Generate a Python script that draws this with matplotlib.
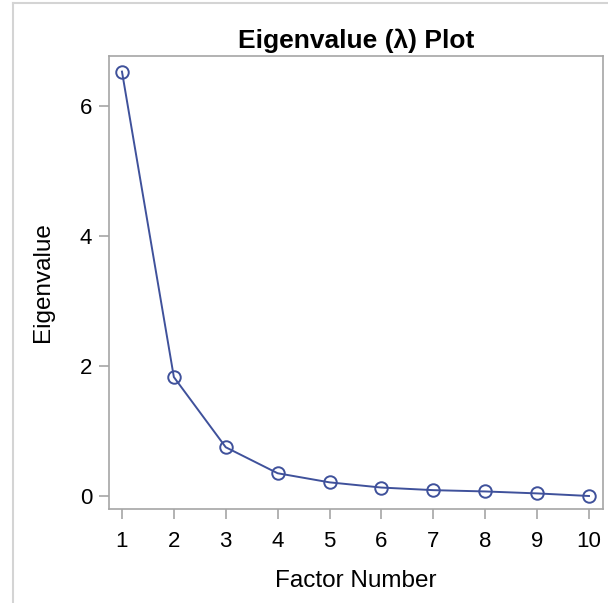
import matplotlib
matplotlib.use("Agg")
import matplotlib.pyplot as plt
from matplotlib.lines import Line2D

factor_number = [1, 2, 3, 4, 5, 6, 7, 8, 9, 10]
eigenvalues = [6.53, 1.83, 0.75, 0.35, 0.21, 0.13, 0.09, 0.07, 0.04, 0.00]
x_ticks = [1, 2, 3, 4, 5, 6, 7, 8, 9, 10]
y_ticks = [0, 2, 4, 6]

plt.rcParams['font.family'] = ['Liberation Sans', 'DejaVu Sans']

line_color = '#3f519b'
frame_color = '#a6a6a6'

fig = plt.figure(figsize=(6.08, 6.03), dpi=100)
ax = fig.add_axes([109 / 608, 1 - 509 / 603, (603 - 109) / 608, (509 - 56) / 603])

ax.plot(factor_number, eigenvalues, color=line_color, lw=1.4,
        marker='o', markersize=9, markerfacecolor='none',
        markeredgecolor=line_color, markeredgewidth=1.4)

ax.set_xlim(0.75, 10.27)
ax.set_ylim(-0.2, 6.77)
ax.set_xticks(x_ticks)
ax.set_yticks(y_ticks)

for sp in ax.spines.values():
    sp.set_color(frame_color)
    sp.set_linewidth(1.2)
ax.tick_params(axis='both', direction='out', length=7, width=1.2,
               color=frame_color, labelsize=16, labelcolor='black')
ax.tick_params(axis='x', pad=9)
ax.tick_params(axis='y', pad=5)

ax.set_xlabel('Factor Number', fontsize=17.5, labelpad=13)
ax.set_ylabel('Eigenvalue', fontsize=17.5, labelpad=19)
ax.set_title('Eigenvalue (λ) Plot', fontsize=19, fontweight='bold', pad=5.5)

# Outer page border along the top and left edges
fig.add_artist(Line2D([13 / 608, 13 / 608], [0, 1 - 3 / 603],
                      transform=fig.transFigure, color='#d4d4d4', lw=1.5))
fig.add_artist(Line2D([13 / 608, 1], [1 - 3 / 603, 1 - 3 / 603],
                      transform=fig.transFigure, color='#d4d4d4', lw=1.5))

fig.savefig('out.png', dpi=100)
